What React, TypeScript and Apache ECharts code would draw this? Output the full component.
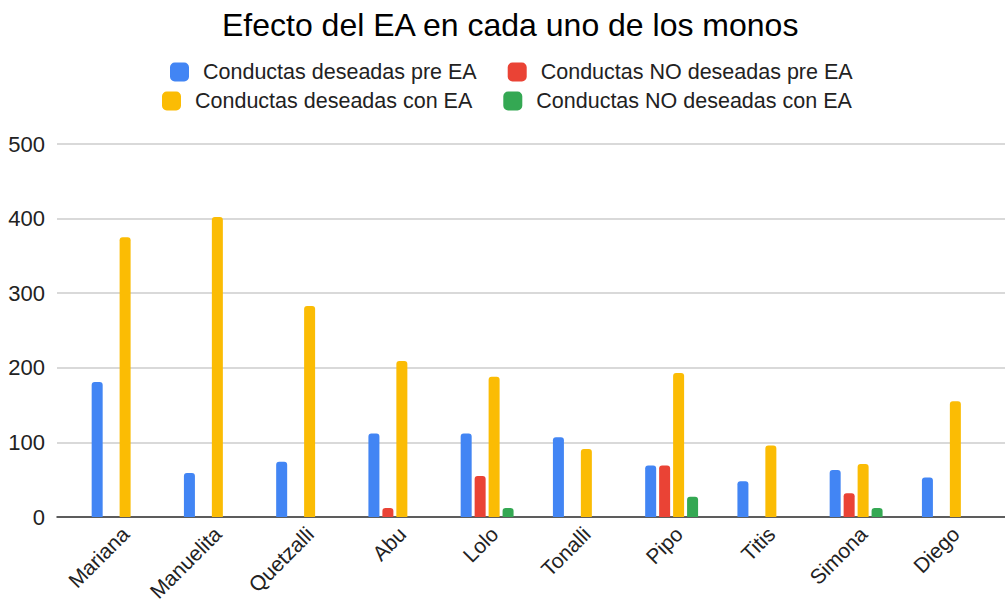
import React, { useEffect, useRef } from "react";
import * as echarts from "echarts";

const categories = ["Mariana", "Manuelita", "Quetzalli", "Abu", "Lolo", "Tonalli", "Pipo", "Titis", "Simona", "Diego"];
const seriesNames = [
  "Conductas deseadas pre EA",
  "Conductas NO deseadas pre EA",
  "Conductas deseadas con EA",
  "Conductas NO deseadas con EA",
];
const deseadasPre = [181, 59, 74, 112, 112, 107, 69, 48, 63, 53];
const noDeseadasPre = [0, 0, 0, 12, 55, 0, 69, 0, 32, 0];
const deseadasCon = [375, 402, 283, 209, 188, 91, 193, 96, 71, 155];
const noDeseadasCon = [0, 0, 0, 0, 12, 0, 27, 0, 12, 0];
const colors = ["#4285F4", "#EA4335", "#FBBC04", "#34A853"];
const FONT = "Liberation Sans, Arial, sans-serif";

export default function App() {
  const ref = useRef<HTMLDivElement>(null);
  useEffect(() => {
    if (!ref.current) return;
    const chart = echarts.init(ref.current, null, { renderer: "svg" });
    const values = [deseadasPre, noDeseadasPre, deseadasCon, noDeseadasCon];
    const legendCommon = {
      padding: 0,
      itemWidth: 19,
      itemHeight: 19,
      itemGap: 31,
      icon: "roundRect",
      textStyle: { fontFamily: FONT, fontSize: 21.5, color: "#222", padding: [0, 0, 0, 9] },
    };
    chart.setOption({
      animation: false,
      color: colors,
      title: {
        text: "Efecto del EA en cada uno de los monos",
        left: 222,
        top: 9,
        padding: 0,
        textStyle: { fontFamily: FONT, fontSize: 32, fontWeight: "normal", color: "#000" },
      },
      legend: [
        { ...legendCommon, left: 170, top: 61, data: [seriesNames[0], seriesNames[1]] },
        { ...legendCommon, left: 162, top: 90, data: [seriesNames[2], seriesNames[3]] },
      ],
      grid: [
        { left: 72, right: 10.5, top: 144, bottom: 89, outerBoundsMode: "none", containLabel: false },
        { left: 57, right: 0, top: 144, bottom: 89, outerBoundsMode: "none", containLabel: false },
      ],
      xAxis: [
        {
          type: "category",
          gridIndex: 0,
          data: categories,
          axisLine: { show: false },
          axisTick: { show: false },
          axisLabel: {
            rotate: 45,
            interval: 0,
            margin: 6,
            verticalAlign: "top",
            fontFamily: FONT,
            fontSize: 21,
            color: "#222",
          },
        },
        {
          type: "value",
          gridIndex: 1,
          min: 0,
          max: 1,
          axisLine: { show: true, lineStyle: { color: "#333", width: 1.5 } },
          axisTick: { show: false },
          axisLabel: { show: false },
          splitLine: { show: false },
        },
      ],
      yAxis: [
        { type: "value", gridIndex: 0, min: 0, max: 500, interval: 100, show: false },
        {
          type: "value",
          gridIndex: 1,
          min: 0,
          max: 500,
          interval: 100,
          axisLine: { show: false },
          axisTick: { show: false },
          axisLabel: { margin: 12, fontFamily: FONT, fontSize: 22, color: "#222" },
          splitLine: { lineStyle: { color: "#cccccc", width: 1.5 } },
        },
      ],
      series: values.map((v, i) => ({
        name: seriesNames[i],
        type: "bar",
        xAxisIndex: 0,
        yAxisIndex: 0,
        data: v,
        barWidth: 11,
        barGap: "27%",
        itemStyle: { color: colors[i], borderRadius: [3, 3, 0, 0] },
      })),
    });
    return () => chart.dispose();
  }, []);
  return <div ref={ref} style={{ width: 1005, height: 606, position: "absolute", left: 0, top: 0 }} />;
}
